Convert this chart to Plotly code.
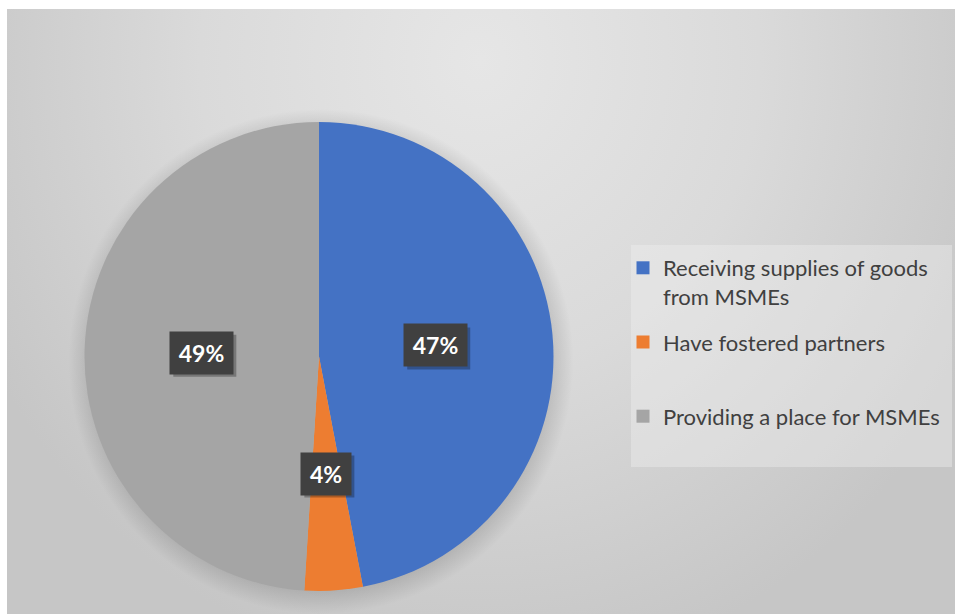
import math
import plotly.graph_objects as go

# ---- data ----
categories = ["Receiving supplies of goods from MSMEs",
              "Have fostered partners",
              "Providing a place for MSMEs"]
values = [47, 4, 49]
colors = ["#4472C4", "#ED7D31", "#A5A5A5"]
legend_names = ["Receiving supplies of goods<br>from MSMEs",
                "Have fostered partners<br> ",
                "Providing a place for MSMEs"]

# ---- canvas geometry (pixels) ----
W, H = 955, 614
LEFT, TOP = 7, 9                 # chart area origin inside the page
CX, CY, R = 319, 356.5, 234.5    # pie centre and radius

def ydata(py):
    return H - py

fig = go.Figure()

# background: radial gradient, light near the top centre
gx, gy, grx, gry = 480, 60, 560, 620
fig.add_trace(go.Scatter(
    x=[gx - grx, gx + grx, gx + grx, gx - grx, gx - grx],
    y=[ydata(gy - gry), ydata(gy - gry), ydata(gy + gry), ydata(gy + gry), ydata(gy - gry)],
    mode="lines", line=dict(width=0), fill="toself",
    fillgradient=dict(type="radial",
                      colorscale=[[0, "#e6e6e6"], [0.5, "#dadada"], [1, "#c6c6c6"]]),
    hoverinfo="skip", showlegend=False))

# soft shadow behind the pie
sr = R + 18
scx, scy = CX + 2, CY + 5
fig.add_trace(go.Scatter(
    x=[scx - sr, scx + sr, scx + sr, scx - sr, scx - sr],
    y=[ydata(scy - sr), ydata(scy - sr), ydata(scy + sr), ydata(scy + sr), ydata(scy - sr)],
    mode="lines", line=dict(width=0), fill="toself",
    fillgradient=dict(type="radial",
                      colorscale=[[0, "rgba(0,0,0,0.16)"], [0.9, "rgba(0,0,0,0.14)"],
                                  [1, "rgba(0,0,0,0)"]]),
    hoverinfo="skip", showlegend=False))

# legend panel
lx0, lx1, ly0, ly1 = 631, 952, 245, 467
fig.add_trace(go.Scatter(
    x=[lx0, lx1, lx1, lx0, lx0],
    y=[ydata(ly0), ydata(ly0), ydata(ly1), ydata(ly1), ydata(ly0)],
    mode="lines", line=dict(width=0), fill="toself",
    fillcolor="rgba(240,240,240,0.4)", hoverinfo="skip", showlegend=False))

# legend entries
for name, cat, col in zip(legend_names, categories, colors):
    fig.add_trace(go.Scatter(
        x=[None], y=[None], mode="markers", name=name, legendgroup=cat,
        marker=dict(symbol="square", size=13, color=col)))

# the pie itself
fig.add_trace(go.Pie(
    labels=categories, values=values, sort=False, direction="clockwise",
    rotation=0, marker=dict(colors=colors, line=dict(width=0)),
    textinfo="none", hoverinfo="label+percent", showlegend=False,
    domain=dict(x=[(CX - R) / W, (CX + R) / W],
                y=[1 - (CY + R) / H, 1 - (CY - R) / H])))

# data labels in dark boxes, placed at half radius on each slice's mid-angle
total = sum(values)
annotations = []
shapes = []
cum = 0
BOX_H = 42
for v in values:
    mid = (cum + v / 2) / total * 2 * math.pi
    cum += v
    px = CX + 0.5 * R * math.sin(mid)
    py = CY - 0.5 * R * math.cos(mid)
    label = f"{round(v / total * 100)}%"
    bw = 13 * len(label) + 20
    # drop shadow of the label box
    shapes.append(dict(type="rect", xref="x", yref="y", layer="above",
                       x0=px - (bw + 4) / 2 + 3, x1=px + (bw + 4) / 2 + 3,
                       y0=ydata(py - BOX_H / 2 + 3), y1=ydata(py + BOX_H / 2 + 3),
                       fillcolor="rgba(0,0,0,0.28)", line=dict(width=0)))
    annotations.append(dict(x=px, y=ydata(py), xref="x", yref="y", showarrow=False,
                            width=bw, height=BOX_H - 4, borderpad=2,
                            text=f"<b>{label}</b>", bgcolor="#404040",
                            font=dict(family="Lato", size=23, color="white")))

fig.update_layout(
    width=W, height=H,
    margin=dict(l=0, r=0, t=0, b=0),
    paper_bgcolor="white", plot_bgcolor="rgba(0,0,0,0)",
    xaxis=dict(domain=[LEFT / W, 1], range=[LEFT, W], visible=False, fixedrange=True),
    yaxis=dict(domain=[0, 1 - TOP / H], range=[0, H - TOP], visible=False, fixedrange=True),
    legend=dict(x=(lx0 - 8) / W, y=1 - (ly0 + 2) / H, xanchor="left", yanchor="top",
                bgcolor="rgba(0,0,0,0)", tracegroupgap=14, valign="top",
                font=dict(family="Lato", size=22, color="#404040")),
    annotations=annotations,
    shapes=shapes,
    showlegend=True,
)

fig.write_html("out.html")
